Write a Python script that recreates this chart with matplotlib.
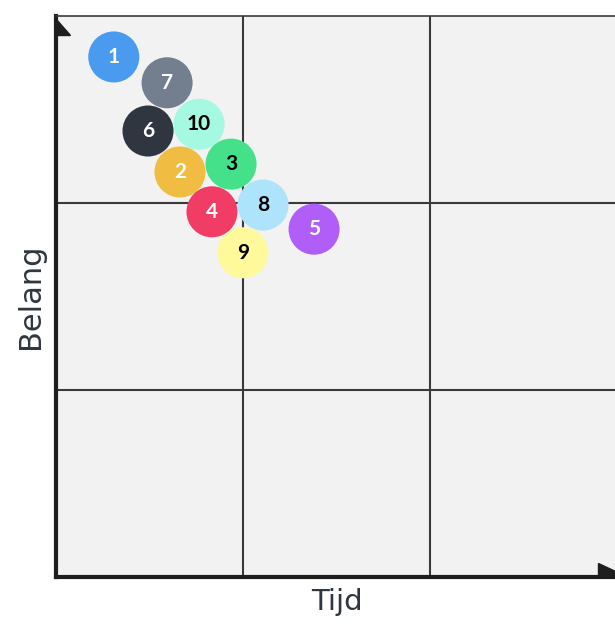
import matplotlib
matplotlib.use("Agg")
import matplotlib.pyplot as plt
from matplotlib.patches import Polygon

# bubble data (percent of the axis range)
labels = ["1", "7", "6", "10", "2", "3", "4", "8", "5", "9"]
tijd = [10.3, 19.8, 16.4, 25.5, 22.1, 31.2, 27.8, 36.9, 46.0, 33.3]
belang = [92.7, 88.1, 79.5, 80.7, 72.2, 73.6, 65.1, 66.3, 62.0, 57.8]
colors = ["#4a9aef", "#737f8e", "#2f3640", "#a5f9e0", "#f0bc42",
          "#44e18a", "#f13c66", "#ade3fb", "#b15ef9", "#fef99b"]
text_colors = ["white", "white", "white", "black", "white",
               "black", "white", "black", "white", "black"]

fig = plt.figure(figsize=(6.15, 6.24), dpi=100)
ax = fig.add_axes([56 / 615, 47 / 624, 561 / 615, 561 / 624])
ax.set_facecolor("#f2f2f2")
ax.set_xlim(0, 100)
ax.set_ylim(0, 100)

for v in (100 / 3, 200 / 3):
    ax.axvline(v, color="#3a3a3a", lw=1.5, zorder=1)
    ax.axhline(v, color="#3a3a3a", lw=1.5, zorder=1)

for i in range(len(labels)):
    ax.scatter(tijd[i], belang[i], s=1350, color=colors[i], edgecolors="none", zorder=3 + i)
    ax.text(tijd[i], belang[i], labels[i], color=text_colors[i], ha="center", va="center",
            fontsize=15, fontweight="bold", family="Lato", zorder=3 + i)

for side in ("left", "bottom"):
    ax.spines[side].set_linewidth(3)
    ax.spines[side].set_color("#1e1e1e")
for side in ("top", "right"):
    ax.spines[side].set_linewidth(1.2)
    ax.spines[side].set_color("#3a3a3a")

# corner arrow heads
ax.add_patch(Polygon([[0, 0.995], [0, 0.966], [0.025, 0.966]], closed=True, transform=ax.transAxes,
                     color="#1e1e1e", clip_on=False, zorder=20))
ax.add_patch(Polygon([[0.966, 0.025], [0.966, 0], [1.02, 0]], closed=True, transform=ax.transAxes,
                     color="#1e1e1e", clip_on=False, zorder=20))

ax.set_xticks([])
ax.set_yticks([])
ax.set_xlabel("Tijd", fontsize=21, color="#2f3640", family="DejaVu Sans", labelpad=8)
ax.set_ylabel("Belang", fontsize=22, color="#2f3640", family="DejaVu Sans", labelpad=8)

fig.savefig("out.png", dpi=100)
